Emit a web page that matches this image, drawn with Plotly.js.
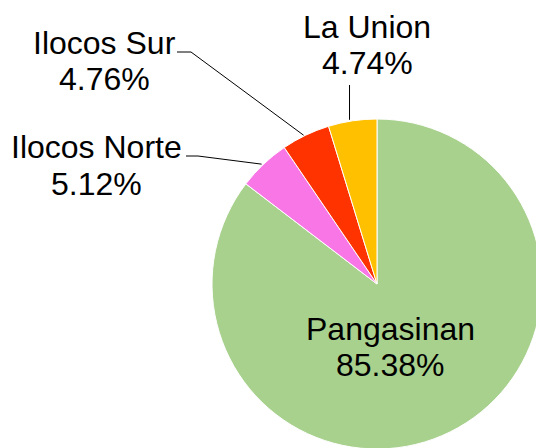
<!DOCTYPE html>
<html>
<head>
<meta charset="utf-8">
<script src="https://cdn.plot.ly/plotly-3.0.1.min.js"></script>
<style>
html,body{margin:0;padding:0;overflow:hidden;background:#fff;width:536px;height:448px;}
#chart{position:absolute;left:0;top:0;width:560px;height:470px;}
</style>
</head>
<body>
<div id="chart"></div>
<script>
// Data
const provinces = ["Pangasinan", "Ilocos Norte", "Ilocos Sur", "La Union"];
const shares = [85.38, 5.12, 4.76, 4.74];
const sliceColors = ["#A9D18E", "#F976E6", "#FF3300", "#FFC000"];

// Layout geometry (pixels)
const W = 560, H = 470, L = 212, T = 119, S = 330;
const cx = L + S / 2, cy = T + S / 2, R = S / 2;
const toX = px => (px - L) / S;
const toY = py => 1 - (py - T) / S;

// label placement (pixel centres of name line and value line)
const labelPos = {
  "Pangasinan":  {x: 390, y1: 329, y2: 365},
  "Ilocos Norte":{x: 96,  y1: 147, y2: 184},
  "Ilocos Sur":  {x: 104, y1: 43,  y2: 79},
  "La Union":    {x: 367, y1: 27,  y2: 63}
};
// leader line start points (pixels) for outside labels
const leaderStart = {
  "Ilocos Norte": [[186,156],[198,156]],
  "Ilocos Sur":   [[177,52],[191,52]],
  "La Union":     "vertical"
};

const total = shares.reduce((a,b)=>a+b,0);
const annotations = [];
const shapes = [];
let cum = 0;
provinces.forEach((p, i) => {
  const mid = (cum + shares[i] / 2) / total;
  cum += shares[i];
  const th = mid * 2 * Math.PI;
  const ex = cx + R * Math.sin(th), ey = cy - R * Math.cos(th);
  const lp = labelPos[p];
  const font = {family: "Liberation Sans, Arial, sans-serif", size: 32, color: "#000"};
  annotations.push({xref:"paper", yref:"paper", x: toX(lp.x), y: toY(lp.y1), text: p, showarrow:false, font, xanchor:"center", yanchor:"middle"});
  annotations.push({xref:"paper", yref:"paper", x: toX(lp.x), y: toY(lp.y2), text: shares[i].toFixed(2) + "%", showarrow:false, font, xanchor:"center", yanchor:"middle"});
  const ls = leaderStart[p];
  if (ls === "vertical") {
    shapes.push({type:"line", xref:"paper", yref:"paper", x0: toX(ex - 3), y0: toY(85), x1: toX(ex - 3), y1: toY(ey - 1), line:{color:"#000", width:1}});
  } else if (ls) {
    let path = "M " + toX(ls[0][0]) + "," + toY(ls[0][1]);
    for (let k = 1; k < ls.length; k++) path += " L " + toX(ls[k][0]) + "," + toY(ls[k][1]);
    path += " L " + toX(ex - 2) + "," + toY(ey);
    shapes.push({type:"path", xref:"paper", yref:"paper", path, line:{color:"#000", width:1}});
  }
});

const trace = {
  type: "pie",
  labels: provinces,
  values: shares,
  sort: false,
  direction: "clockwise",
  rotation: 0,
  textinfo: "none",
  hoverinfo: "none",
  marker: {colors: sliceColors, line: {color: "#ffffff", width: 1}},
  domain: {x: [0, 1], y: [0, 1]},
  showlegend: false
};

const layout = {
  width: W, height: H,
  margin: {l: L, t: T, r: W - L - S, b: H - T - S, pad: 0},
  paper_bgcolor: "#fff",
  showlegend: false,
  annotations, shapes
};

Plotly.newPlot("chart", [trace], layout, {staticPlot: true, displayModeBar: false});
</script>
</body>
</html>
